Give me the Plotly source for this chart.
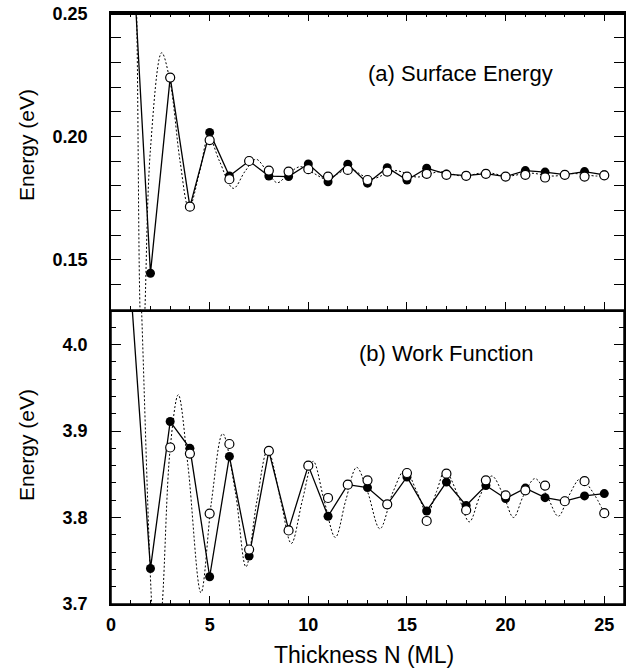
import plotly.graph_objects as go

# ---------------- data ----------------
N_filled = list(range(1, 26))
N_open = list(range(3, 26))

se_filled = [0.289, 0.1446, 0.224, 0.1716, 0.2017, 0.1840, 0.1901, 0.1840, 0.1838, 0.1889,
             0.1817, 0.1888, 0.1811, 0.1874, 0.1824, 0.1872, 0.1848, 0.1842, 0.1850, 0.1838,
             0.1862, 0.1856, 0.1846, 0.1858, 0.1845]
se_open = [0.2239, 0.1716, 0.1986, 0.1827, 0.1901, 0.1862, 0.1858, 0.1868, 0.1838, 0.1865,
           0.1824, 0.1858, 0.1838, 0.1849, 0.1845, 0.1841, 0.1849, 0.1838, 0.1845, 0.1834,
           0.1845, 0.1838, 0.1843]
se_curve_x = [1.1, 1.3, 1.47, 1.6, 1.72, 2.0, 2.57, 3.0, 3.5, 3.95, 4.5, 4.95, 5.5, 6.2,
              6.8, 7.35, 7.9, 8.43, 9.0, 9.6, 10.3, 10.93, 11.5, 12.1, 12.8, 13.3, 14.4,
              15.5, 16.7, 17.8, 19.0, 20.1, 21.2, 22.4, 23.5, 24.6, 25.0]
se_curve_y = [0.31, 0.25, 0.13, 0.105, 0.13, 0.195, 0.234, 0.222, 0.19, 0.171, 0.186, 0.200,
              0.19, 0.179, 0.186, 0.1908, 0.186, 0.1813, 0.185, 0.1878, 0.185, 0.1827, 0.185,
              0.1870, 0.1840, 0.1830, 0.1862, 0.1836, 0.1858, 0.1840, 0.1854, 0.1840, 0.1852,
              0.1840, 0.1850, 0.1840, 0.1843]

wf_filled = [4.066, 3.741, 3.911, 3.880, 3.7315, 3.8707, 3.7554, 3.877, 3.786, 3.860,
             3.8015, 3.838, 3.8346, 3.815, 3.8469, 3.8076, 3.841, 3.814, 3.837, 3.822,
             3.834, 3.823, 3.819, 3.825, 3.8277]
wf_open = [3.881, 3.874, 3.8046, 3.885, 3.763, 3.877, 3.785, 3.860, 3.8226, 3.838, 3.843,
           3.8153, 3.8515, 3.796, 3.8507, 3.8084, 3.843, 3.8257, 3.8315, 3.837, 3.8188,
           3.842, 3.805]
wf_curve_x = [1.3, 1.55, 2.06, 2.3, 2.6, 3.0, 3.41, 3.9, 4.56, 5.1, 5.66, 6.3, 6.84, 7.4,
              7.94, 8.6, 9.14, 9.7, 10.25, 10.8, 11.37, 11.9, 12.45, 13.0, 13.63, 14.3,
              14.9, 15.5, 16.03, 16.5, 16.93, 17.6, 18.16, 18.7, 19.3, 19.9, 20.4, 20.9,
              21.49, 22.1, 22.67, 23.2, 23.8, 24.4, 25.0]
wf_curve_y = [4.2, 4.04, 3.70, 3.62, 3.70, 3.88, 3.942, 3.86, 3.713, 3.82, 3.897, 3.83,
              3.743, 3.82, 3.878, 3.82, 3.770, 3.82, 3.865, 3.82, 3.777, 3.82, 3.858, 3.83,
              3.787, 3.83, 3.855, 3.83, 3.805, 3.83, 3.854, 3.825, 3.795, 3.825, 3.848,
              3.825, 3.800, 3.825, 3.845, 3.825, 3.8015, 3.825, 3.845, 3.83, 3.805]

se_ticks = [0.15, 0.20, 0.25]
se_ticklabels = ["0.15", "0.20", "0.25"]
wf_ticks = [3.7, 3.8, 3.9, 4.0]
wf_ticklabels = ["3.7", "3.8", "3.9", "4.0"]

FONT = "Liberation Sans, Arial, Helvetica, sans-serif"

fig = go.Figure()

def add_panel(xa, ya, cx, cy, fy, oy):
    fig.add_trace(go.Scatter(x=cx, y=cy, mode="lines", xaxis=xa, yaxis=ya,
                             line=dict(color="black", width=1, dash="2px,2px", shape="spline"),
                             showlegend=False, hoverinfo="skip"))
    fig.add_trace(go.Scatter(x=N_filled, y=fy, mode="lines+markers", xaxis=xa, yaxis=ya,
                             line=dict(color="black", width=1.3),
                             marker=dict(symbol="circle", size=9, color="black"),
                             showlegend=False))
    fig.add_trace(go.Scatter(x=N_open, y=oy, mode="markers", xaxis=xa, yaxis=ya,
                             marker=dict(symbol="circle", size=9, color="white",
                                         line=dict(color="black", width=1.2)),
                             showlegend=False))

add_panel("x2", "y2", se_curve_x, se_curve_y, se_filled, se_open)
add_panel("x", "y", wf_curve_x, wf_curve_y, wf_filled, wf_open)

tickfont = dict(family=FONT, size=18, color="black", weight="bold")
xcommon = dict(range=[0, 26], dtick=5, tick0=0, ticks="inside", ticklen=8, tickwidth=1,
               tickcolor="black", showline=True, linecolor="black", linewidth=1.5,
               showgrid=False, zeroline=False, automargin=False,
               minor=dict(dtick=1, ticks="inside", ticklen=4, tickcolor="black", showgrid=False))
ycommon = dict(ticks="inside", ticklen=10, tickwidth=1, tickcolor="black", showline=True,
               linecolor="black", linewidth=1.5, showgrid=False, zeroline=False,
               mirror="allticks", tickfont=tickfont, ticklabelstandoff=18, automargin=False,
               ticklabeloverflow="allow")

fig.update_layout(
    width=632, height=670,
    margin=dict(l=111, r=8, t=13, b=66),
    paper_bgcolor="white", plot_bgcolor="white",
    font=dict(family=FONT, color="black"),
    xaxis=dict(**xcommon, anchor="y", domain=[0, 1], mirror=False,
               tickfont=tickfont, ticklabelstandoff=4),
    xaxis2=dict(**xcommon, anchor="y2", matches="x", mirror="allticks", showticklabels=False),
    xaxis3=dict(**xcommon, anchor="y2", overlaying="x2", side="top", showticklabels=False),
    yaxis=dict(**ycommon, anchor="x", domain=[0, 0.4975], range=[3.7, 4.04],
               tickvals=wf_ticks, ticktext=wf_ticklabels,
               minor=dict(dtick=0.02, tick0=3.7, ticks="inside", ticklen=5, tickcolor="black")),
    yaxis2=dict(**ycommon, anchor="x2", domain=[0.4975, 1], range=[0.1297, 0.2501],
                tickvals=se_ticks, ticktext=se_ticklabels,
                minor=dict(dtick=0.01, tick0=0.13, ticks="inside", ticklen=5, tickcolor="black")),
    shapes=[
        dict(type="line", xref="paper", yref="paper", x0=0, x1=1, y0=0.9985, y1=0.9985,
             line=dict(color="black", width=2), layer="above"),
        dict(type="rect", xref="paper", yref="paper", x0=0, x1=1, y0=0, y1=0.4975,
             line=dict(color="black", width=1.5), fillcolor="rgba(0,0,0,0)", layer="above"),
    ],
    annotations=[
        dict(text="(a) Surface Energy", xref="x2", yref="y2", x=17.7, y=0.2257,
             showarrow=False, font=dict(family=FONT, size=22, color="black")),
        dict(text="(b) Work Function", xref="x", yref="y", x=17.0, y=3.99,
             showarrow=False, font=dict(family=FONT, size=22, color="black")),
        dict(text="Energy (eV)", xref="paper", yref="paper", x=0, y=0.7766, xshift=-85,
             xanchor="center", yanchor="middle",
             textangle=-90, showarrow=False, font=dict(family=FONT, size=21, color="black")),
        dict(text="Energy (eV)", xref="paper", yref="paper", x=0, y=0.269, xshift=-85,
             xanchor="center", yanchor="middle",
             textangle=-90, showarrow=False, font=dict(family=FONT, size=21, color="black")),
        dict(text="Thickness N (ML)", xref="paper", yref="paper", x=0.4932, y=-0.0863,
             xanchor="center", yanchor="middle", showarrow=False,
             font=dict(family=FONT, size=23, color="black")),
    ],
)

# an invisible trace so the top (mirror) axis is drawn
fig.add_trace(go.Scatter(x=[0], y=[0.2], xaxis="x3", yaxis="y2", mode="markers",
                         marker=dict(opacity=0), showlegend=False, hoverinfo="skip"))

# remove the default 8px page margin so the figure sits at the window's corner
fig.write_html("out.html", config={"displayModeBar": False},
               post_script="document.body.style.margin='0px';document.body.style.overflow='hidden';")
